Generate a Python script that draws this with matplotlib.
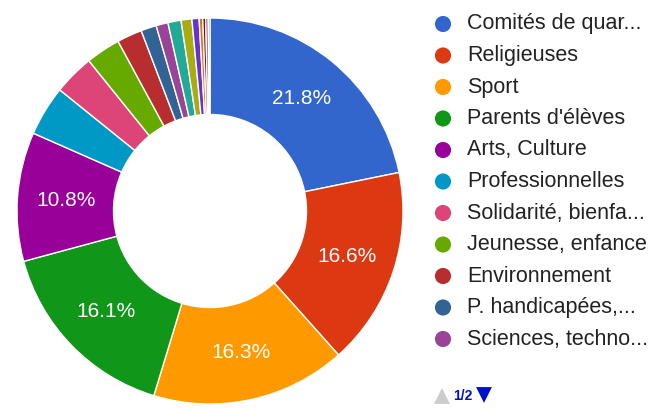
import matplotlib.pyplot as plt

shares = [21.8, 16.6, 16.3, 16.1, 10.8, 4.2, 3.4, 2.9, 2.1, 1.3, 1.0, 1.1, 0.9, 0.6,
          0.3, 0.25, 0.2, 0.15]
colors = ['#3366cc', '#dc3912', '#ff9900', '#109618', '#990099', '#0099c6', '#dd4477',
          '#66aa00', '#b82e2e', '#316395', '#994499', '#22aa99', '#aaaa11', '#6633cc',
          '#e67300', '#8b0707', '#651067', '#329262']

# legend page 1/2
legend_labels = ['Comités de quar...', 'Religieuses', 'Sport', "Parents d'élèves",
                 'Arts, Culture', 'Professionnelles', 'Solidarité, bienfa...',
                 'Jeunesse, enfance', 'Environnement', 'P. handicapées,...',
                 'Sciences, techno...']

plt.rcParams['font.family'] = ['Liberation Sans', 'DejaVu Sans']

W, H = 649, 408
fig = plt.figure(figsize=(W / 100, H / 100), dpi=100)

# donut: centre (210, 211) px, outer radius 193 px
cx, cy, r = 210, 211, 193
ax = fig.add_axes([(cx - r) / W, (H - cy - r) / H, 2 * r / W, 2 * r / H])


def pct_label(p):
    return '%.1f%%' % p if p >= 10 else ''


wedges, texts, autotexts = ax.pie(
    shares, colors=colors, startangle=90, counterclock=False, radius=1,
    autopct=pct_label, pctdistance=0.75,
    wedgeprops=dict(width=0.5, edgecolor='white', linewidth=1),
    textprops=dict(color='white', fontsize=15))
ax.set_xlim(-1, 1)
ax.set_ylim(-1, 1)
ax.set_aspect('equal')
ax.axis('off')

# legend drawn in pixel coordinates
lax = fig.add_axes([0, 0, 1, 1])
lax.set_xlim(0, W)
lax.set_ylim(H, 0)
lax.axis('off')

for i, lab in enumerate(legend_labels):
    y = 24 + 31.5 * i
    lax.scatter([443], [y], s=135, color=colors[i], edgecolors='none')
    lax.text(467, y, lab, fontsize=15.5, color='#222222', va='center', ha='left')

# pager
lax.scatter([442], [396], marker='^', s=130, color='#cccccc', edgecolors='none')
lax.text(453, 396, '1/2', fontsize=10, color='#0011cc', va='center', ha='left',
         fontweight='bold')
lax.scatter([484], [395], marker='v', s=130, color='#0011cc', edgecolors='none')

fig.savefig('out.png', dpi=100)
